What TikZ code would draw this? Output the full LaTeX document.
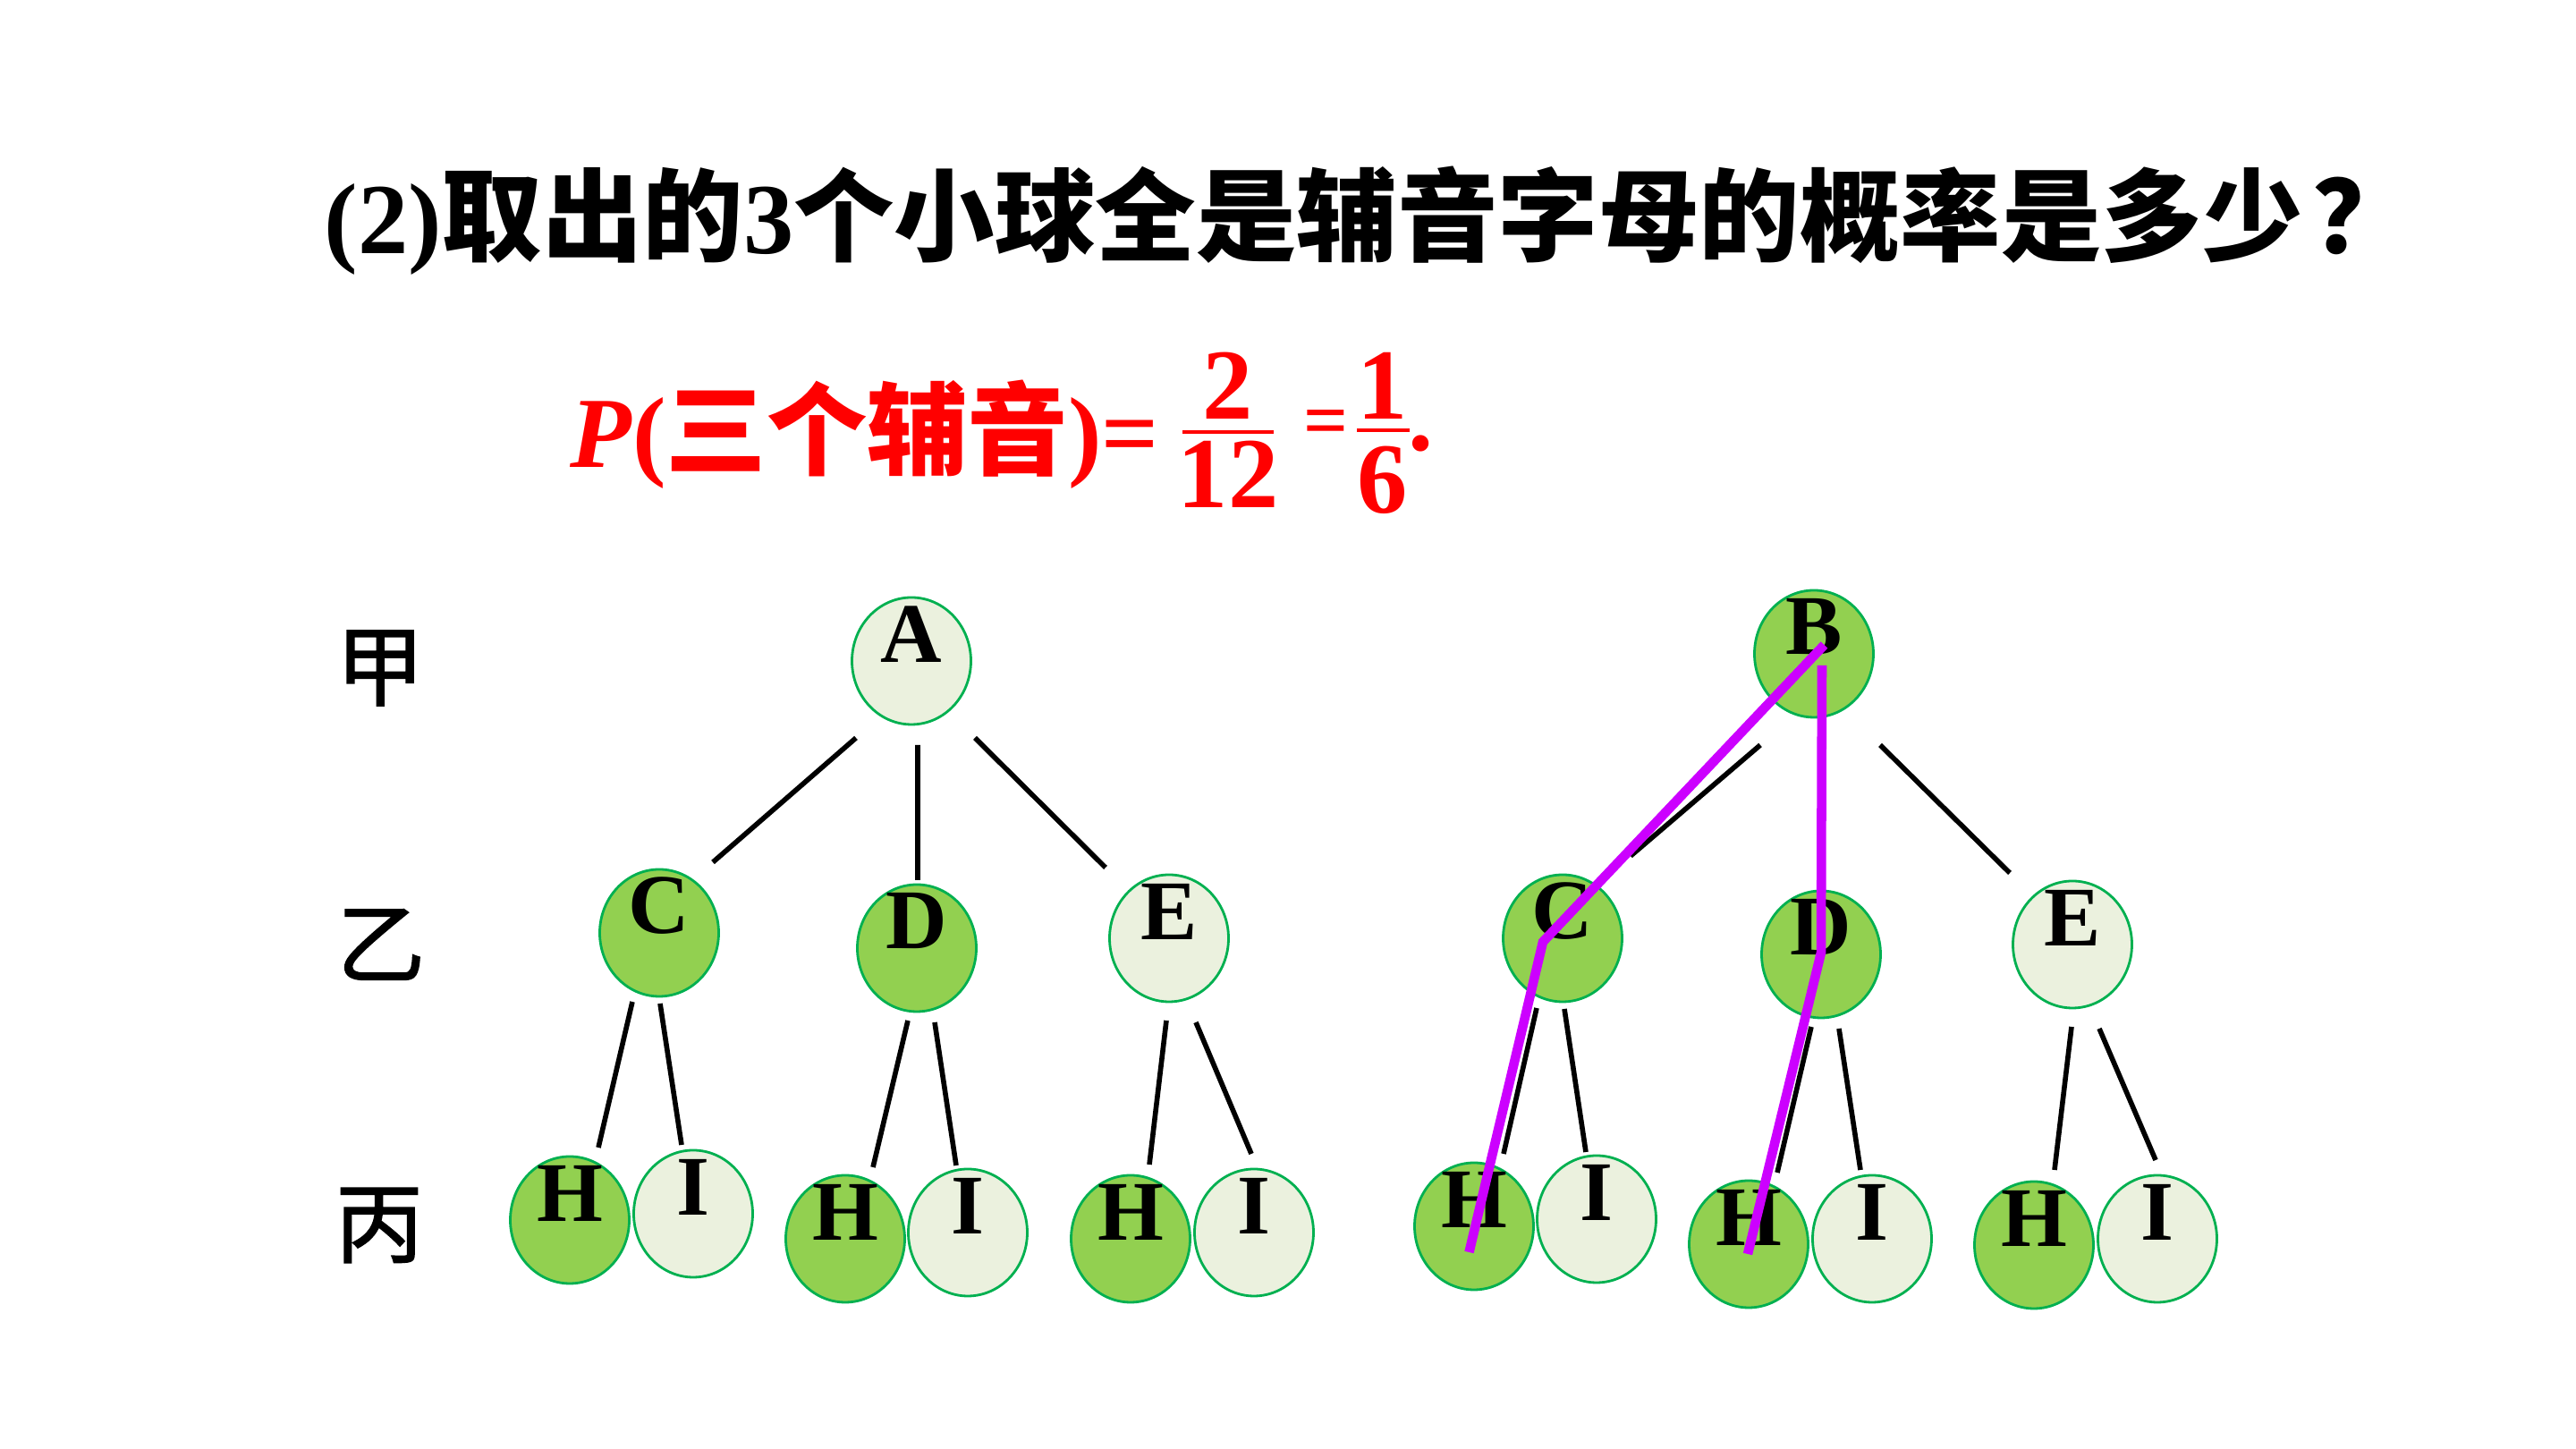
\documentclass[tikz,border=0pt]{standalone}
\usepackage{fontspec}
\setmainfont{Liberation Serif}
\newfontfamily\cjk{Noto Sans CJK SC}
\newfontfamily\cjkrow[FakeBold=1.5]{Noto Sans CJK SC}

\definecolor{leafdark}{HTML}{92D050}
\definecolor{leaflight}{HTML}{EBF1DE}
\definecolor{rim}{HTML}{00B050}
\definecolor{pathpurple}{HTML}{CC00FF}
\definecolor{answerred}{HTML}{FF0000}

\usetikzlibrary{shapes.geometric}

\tikzset{
  ball/.style={ellipse, draw=rim, line width=0.8pt, minimum width=1.33cm, minimum height=1.42cm, inner sep=0pt},
  letter/.style={font=\fontsize{27}{30}\selectfont\bfseries, inner sep=0pt, yshift=3mm},
  consball/.style={ball, fill=leafdark, label={[letter]center:#1}},
  vowelball/.style={ball, fill=leaflight, label={[letter]center:#1}},
  branch/.style={line width=1.6pt, black},
  pick/.style={line width=3pt, pathpurple},
  rowlabel/.style={font=\cjkrow\fontsize{28}{32}\selectfont, inner sep=0pt},
  answer/.style={text=answerred, font=\fontsize{32}{36}\selectfont\bfseries, inner sep=0pt},
  fracbar/.style={answerred, line width=1.4pt}
}

\begin{document}
\begin{tikzpicture}
\fill[white] (0,0) rectangle (28.8,16.2);

% question and answer
\node[font=\fontsize{32}{36}\selectfont\bfseries, inner sep=0pt, anchor=base west] (question) at (3.62,13.36)
  {(2){\cjk 取出的}3{\cjk 个小球全是辅音字母的概率是多少\hspace{0.1em}？}};
\node[answer, anchor=base west] (pthree) at (6.37,10.97) {\textit{P}({\cjk 三个辅音})=};
\node[answer] (two) at (13.73,11.89) {2};
\node[answer] (twelve) at (13.73,10.90) {12};
\draw[fracbar] (13.22,11.37) -- (14.24,11.37);
\node[answer, font=\fontsize{25}{30}\selectfont\bfseries, anchor=base] (eq) at (14.83,11.20) {=};
\node[answer] (one) at (15.46,11.89) {1};
\node[answer] (six) at (15.46,10.83) {6};
\draw[fracbar] (15.17,11.39) -- (15.76,11.39);
\node[answer, anchor=base] (dot) at (15.89,11.165) {.};

% rows
\node[rowlabel] (jia) at (4.25,8.73) {甲};
\node[rowlabel] (yi) at (4.26,5.64) {乙};
\node[rowlabel] (bing) at (4.24,2.50) {丙};

% left tree
\node[vowelball=A] (A) at (10.19,8.81) {};
\node[consball=C] (C1) at (7.37,5.77) {};
\node[consball=D] (D1) at (10.25,5.60) {};
\node[vowelball=E] (E1) at (13.07,5.71) {};
\node[consball=H] (H1) at (6.37,2.56) {};
\node[vowelball=I] (I1) at (7.75,2.63) {};
\node[consball=H] (H2) at (9.45,2.35) {};
\node[vowelball=I] (I2) at (10.82,2.42) {};
\node[consball=H] (H3) at (12.64,2.35) {};
\node[vowelball=I] (I3) at (14.02,2.42) {};

\draw[branch] ([shift={(-0.62,-0.86)}]A.center) -- ([shift={(0.60,0.79)}]C1.center);
\draw[branch] ([shift={(0.07,-0.94)}]A.center) -- ([shift={(0.01,0.76)}]D1.center);
\draw[branch] ([shift={(0.71,-0.86)}]A.center) -- ([shift={(-0.71,0.79)}]E1.center);
\draw[branch] ([shift={(-0.30,-0.77)}]C1.center) -- ([shift={(0.32,0.81)}]H1.center);
\draw[branch] ([shift={(0.01,-0.79)}]C1.center) -- ([shift={(-0.13,0.77)}]I1.center);
\draw[branch] ([shift={(-0.10,-0.81)}]D1.center) -- ([shift={(0.31,0.80)}]H2.center);
\draw[branch] ([shift={(0.20,-0.83)}]D1.center) -- ([shift={(-0.13,0.75)}]I2.center);
\draw[branch] ([shift={(-0.03,-0.92)}]E1.center) -- ([shift={(0.21,0.83)}]H3.center);
\draw[branch] ([shift={(0.30,-0.94)}]E1.center) -- ([shift={(-0.03,0.88)}]I3.center);

% right tree
\node[consball=B] (B) at (20.28,8.89) {};
\node[consball=C] (C2) at (17.47,5.71) {};
\node[consball=D] (D2) at (20.36,5.53) {};
\node[vowelball=E] (E2) at (23.17,5.64) {};
\node[consball=H] (H4) at (16.48,2.49) {};
\node[vowelball=I] (I4) at (17.85,2.57) {};
\node[consball=H] (H5) at (19.55,2.29) {};
\node[vowelball=I] (I5) at (20.93,2.35) {};
\node[consball=H] (H6) at (22.74,2.28) {};
\node[vowelball=I] (I6) at (24.12,2.35) {};

\draw[branch] ([shift={(-0.60,-1.02)}]B.center) -- ([shift={(0.76,0.92)}]C2.center);
\draw[branch] ([shift={(0.07,-0.94)}]B.center) -- ([shift={(0.01,0.76)}]D2.center);
\draw[branch] ([shift={(0.74,-1.02)}]B.center) -- ([shift={(-0.70,0.80)}]E2.center);
\draw[branch] ([shift={(-0.29,-0.78)}]C2.center) -- ([shift={(0.33,0.81)}]H4.center);
\draw[branch] ([shift={(0.02,-0.79)}]C2.center) -- ([shift={(-0.12,0.75)}]I4.center);
\draw[branch] ([shift={(-0.11,-0.81)}]D2.center) -- ([shift={(0.32,0.80)}]H5.center);
\draw[branch] ([shift={(0.20,-0.83)}]D2.center) -- ([shift={(-0.13,0.77)}]I5.center);
\draw[branch] ([shift={(-0.01,-0.92)}]E2.center) -- ([shift={(0.23,0.84)}]H6.center);
\draw[branch] ([shift={(0.30,-0.94)}]E2.center) -- ([shift={(-0.02,0.88)}]I6.center);

% the two all-consonant picks
\draw[pick] ([shift={(0.115,0.10)}]B.center) -- ([shift={(-0.22,-0.04)}]C2.center) -- ([shift={(-0.055,-0.29)}]H4.center);
\draw[pick] ([shift={(0.09,-0.13)}]B.center) -- ([shift={(0,0.02)}]D2.center) -- ([shift={(-0.01,-0.11)}]H5.center);
\end{tikzpicture}
\end{document}
